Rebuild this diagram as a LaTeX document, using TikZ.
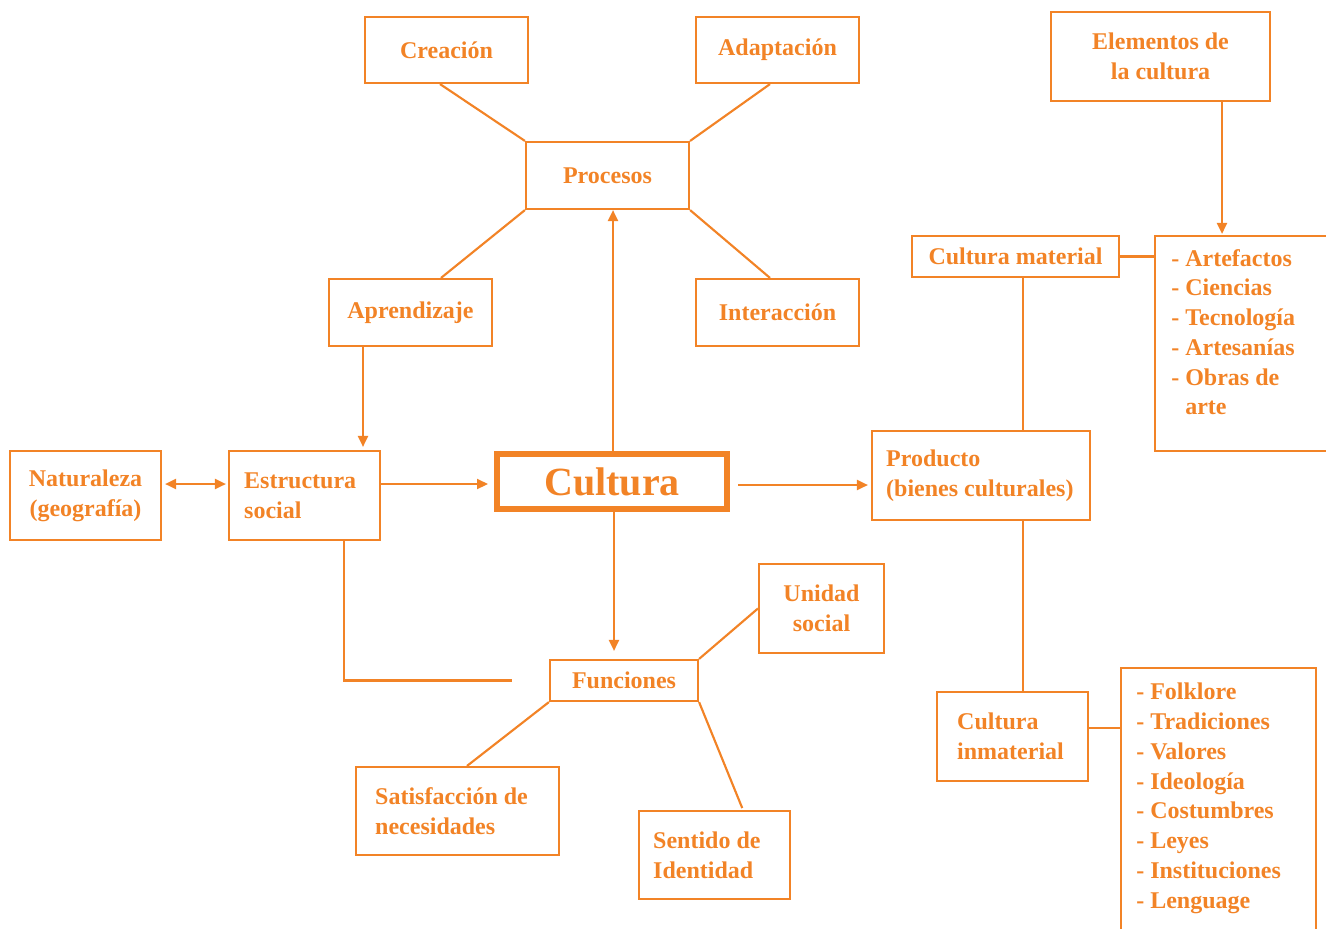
\documentclass[tikz,border=0pt]{standalone}
\usepackage{fontspec}
\setmainfont{Liberation Serif}
\usetikzlibrary{arrows.meta}
\definecolor{orng}{RGB}{242,131,38}
\newcommand{\pxl}[1]{#1*0.75pt}
\begin{document}
\begin{tikzpicture}[x=0.75pt,y=-0.75pt,
  box/.style={draw=orng, line width=1.6pt, text=orng, font=\bfseries\fontsize{18}{22.3}\selectfont, inner sep=0pt, align=center},
  txt/.style={text=orng, font=\bfseries\fontsize{18}{22.3}\selectfont, inner sep=0pt, align=left},
  con/.style={draw=orng, line width=1.6pt},
  arr/.style={con, -{Triangle[length=8.25pt,width=7.5pt]}},
  darr/.style={con, {Triangle[length=8.25pt,width=7.5pt]}-{Triangle[length=8.25pt,width=7.5pt]}}]
\useasboundingbox (0,0) rectangle (1326,928);
% top
\node[box, minimum width=\pxl{163}, minimum height=\pxl{66}] (crea) at (446.5,50) {Creación};
\node[box, minimum width=\pxl{163}, minimum height=\pxl{66}] (adap) at (777.5,50) {Adaptación};
\node[box, minimum width=\pxl{163}, minimum height=\pxl{67}] (proc) at (607.5,175.5) {Procesos};
\node[box, minimum width=\pxl{163}, minimum height=\pxl{67}] (apre) at (410.5,312.5) {Aprendizaje};
\node[box, minimum width=\pxl{163}, minimum height=\pxl{67}] (inte) at (777.5,312.5) {Interacción};
% middle row
\node[box, minimum width=\pxl{151}, minimum height=\pxl{89}] (natu) at (85.5,495.5) {Naturaleza\\(geografía)};
\node[box, minimum width=\pxl{151}, minimum height=\pxl{89}] (estr) at (304.5,495.5) {};
\node[txt, anchor=west] (estrt) at ([xshift=\pxl{16}]estr.west) {Estructura\\social};
\node[box, line width=4.5pt, minimum width=\pxl{230}, minimum height=\pxl{55}, font=\bfseries\fontsize{30}{36}\selectfont] (cult) at (612,481.5) {Cultura};
\node[box, minimum width=\pxl{218}, minimum height=\pxl{89}] (prod) at (981,475.5) {};
\node[txt, anchor=west] (prodt) at ([xshift=\pxl{15}]prod.west) {Producto\\(bienes culturales)};
% right
\node[box, minimum width=\pxl{219}, minimum height=\pxl{89}] (elem) at (1160.5,56.5) {Elementos de\\la cultura};
\node[box, minimum width=\pxl{207}, minimum height=\pxl{41}] (cmat) at (1015.5,256.5) {Cultura material};
\node[box, minimum width=\pxl{185}, minimum height=\pxl{215}] (lst1) at (1247.5,343.5) {};
\node[txt, anchor=north west] (lst1t) at (1171,249) {- Artefactos\\- Ciencias\\- Tecnología\\- Artesanías\\- Obras de\\\hphantom{- }arte};
\node[box, minimum width=\pxl{151}, minimum height=\pxl{89}] (inma) at (1012.5,736.5) {};
\node[txt, anchor=west] (inmat) at ([xshift=\pxl{21}]inma.west) {Cultura\\inmaterial};
\node[box, minimum width=\pxl{195}, minimum height=\pxl{280}] (lst2) at (1218.5,808) {};
\node[txt, anchor=north west] (lst2t) at (1136,683) {- Folklore\\- Tradiciones\\- Valores\\- Ideología\\- Costumbres\\- Leyes\\- Instituciones\\- Lenguage};
% bottom
\node[box, minimum width=\pxl{148}, minimum height=\pxl{41}] (func) at (624,680.5) {Funciones};
\node[box, minimum width=\pxl{125}, minimum height=\pxl{89}] (unid) at (821.5,608.5) {Unidad\\social};
\node[box, minimum width=\pxl{203}, minimum height=\pxl{88}] (sati) at (457.5,811) {};
\node[txt, anchor=west] (satit) at ([xshift=\pxl{20}]sati.west) {Satisfacción de\\necesidades};
\node[box, minimum width=\pxl{151}, minimum height=\pxl{88}] (sent) at (714.5,855) {};
\node[txt, anchor=west] (sentt) at ([xshift=\pxl{15}]sent.west) {Sentido de\\Identidad};
% connectors
\draw[con] ([xshift=\pxl{-6.5}]crea.south) -- (proc.north west);
\draw[con] ([xshift=\pxl{-7.5}]adap.south) -- (proc.north east);
\draw[con] (proc.south west) -- ([xshift=\pxl{30.5}]apre.north);
\draw[con] (proc.south east) -- ([xshift=\pxl{-7.5}]inte.north);
\draw[arr] ([xshift=\pxl{1}]cult.north) -- ([xshift=\pxl{1}]cult.north |- proc.south);
\draw[arr, shorten >=\pxl{3}] ([xshift=\pxl{-47.5}]apre.south) -- ([xshift=\pxl{-47.5}]apre.south |- estr.north);
\draw[darr, shorten <=\pxl{3}, shorten >=\pxl{2}] ([yshift=\pxl{11.5}]natu.east) -- ([yshift=\pxl{11.5}]estr.west);
\draw[arr, shorten >=\pxl{6}] ([yshift=\pxl{11.5}]estr.east) -- ([yshift=\pxl{11.5}]estr.east -| cult.west);
\draw[arr, shorten <=\pxl{8}, shorten >=\pxl{3}] ([yshift=\pxl{-3.5}]cult.east) -- ([yshift=\pxl{-3.5}]cult.east -| prod.west);
\draw[arr, shorten >=\pxl{8}] ([xshift=\pxl{2}]cult.south) -- ([xshift=\pxl{2}]cult.south |- func.north);
\draw[con] ([xshift=\pxl{39.5}]estr.south) |- ([xshift=\pxl{-37}]func.west);
\draw[con] (func.north east) -- (unid.west);
\draw[con] (func.south west) -- ([xshift=\pxl{9.5}]sati.north);
\draw[con, shorten >=\pxl{2}] (func.south east) -- ([xshift=\pxl{28.5}]sent.north);
\draw[con] ([xshift=\pxl{42}]prod.north) -- ([xshift=\pxl{42}]prod.north |- cmat.south);
\draw[con] ([xshift=\pxl{42}]prod.south) -- ([xshift=\pxl{42}]prod.south |- inma.north);
\draw[con] (cmat.east) -- (cmat.east -| lst1.west);
\draw[arr, shorten >=\pxl{1}] ([xshift=\pxl{61.5}]elem.south) -- ([xshift=\pxl{61.5}]elem.south |- lst1.north);
\draw[con] ([yshift=\pxl{8.5}]inma.east) -- ([yshift=\pxl{8.5}]inma.east -| lst2.west);
\end{tikzpicture}
\end{document}
